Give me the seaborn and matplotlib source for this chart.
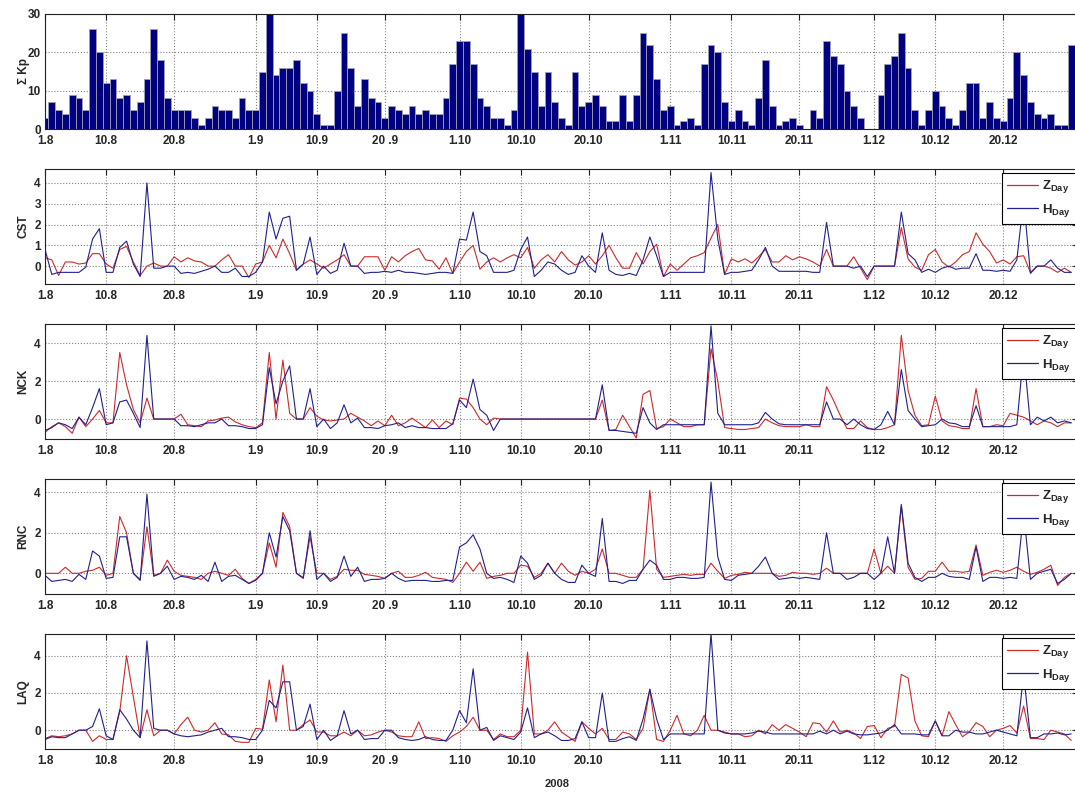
# Daily sum of Kp and daily Z / H variations at four stations, Aug - Dec 2008
import numpy as np
import matplotlib
matplotlib.use('Agg')
import matplotlib.pyplot as plt
import seaborn as sns
from matplotlib.lines import Line2D

# x axis: day number, 1 Aug 2008 = day 0
tick_days = [0, 9, 19, 31, 40, 50, 61, 70, 80, 92, 101, 111, 122, 131, 141]
tick_labels = ['1.8', '10.8', '20.8', '1.9', '10.9', '20 .9', '1.10', '10.10',
               '20.10', '1.11', '10.11', '20.11', '1.12', '10.12', '20.12']

# daily sum of Kp (1 Aug .. 31 Dec)
kp_sum = [3, 7, 5, 4, 9, 8, 5, 26, 20, 12,
          13, 8, 9, 5, 7, 13, 26, 18, 8, 5,
          5, 5, 3, 1, 3, 6, 5, 5, 3, 8,
          5, 5, 15, 30, 14, 16, 16, 18, 12, 10,
          4, 1, 1, 10, 25, 16, 6, 13, 8, 7,
          3, 6, 5, 4, 6, 4, 5, 4, 4, 8,
          17, 23, 23, 17, 8, 6, 3, 3, 1, 5,
          30, 21, 15, 6, 15, 7, 3, 1, 15, 6,
          7, 9, 6, 2, 2, 9, 2, 9, 25, 22,
          13, 5, 6, 1, 2, 3, 1, 17, 22, 20,
          7, 2, 5, 2, 1, 8, 18, 6, 1, 2,
          3, 1, 0, 5, 3, 23, 19, 17, 10, 6,
          3, 0, 0, 9, 17, 19, 25, 16, 5, 1,
          5, 10, 6, 3, 1, 5, 12, 12, 3, 7,
          3, 2, 8, 20, 14, 7, 4, 3, 4, 1,
          1, 22, 15]

# CST
cst_z = [0.4, 0.3, -0.45, 0.2, 0.2, 0.1, 0.15, 0.6, 0.6, 0.1,
         -0.1, 0.8, 0.95, 0.2, -0.45, 0.0, 0.15, 0.0, 0.0, 0.45,
         0.2, 0.4, 0.25, 0.2, 0.0, 0.0, 0.3, 0.55, 0.0, 0.0,
         -0.55, 0.1, 0.2, 1.0, 0.4, 1.3, 0.6, -0.2, 0.1, 0.3,
         0.1, -0.1, 0.1, 0.3, 0.55, 0.0, 0.0, 0.45, 0.45, 0.45,
         -0.2, 0.45, 0.2, 0.5, 0.7, 0.85, 0.3, 0.25, -0.15, 0.4,
         -0.35, 0.2, 0.7, 1.0, -0.15, 0.2, 0.4, 0.2, 0.4, 0.55,
         0.4, 0.9, -0.1, 0.3, 0.55, 0.2, 0.7, 0.3, 0.05, 0.2,
         0.5, 0.1, 0.5, 1.0, 0.4, -0.1, -0.1, 0.65, 0.1, 0.7,
         1.05, -0.5, 0.1, -0.2, 0.1, 0.4, 0.5, 0.65, 1.35, 2.0,
         -0.4, 0.35, 0.2, 0.35, 0.15, 0.45, 0.8, 0.2, 0.2, 0.5,
         0.3, 0.45, 0.35, 0.2, 0.0, 0.8, 0.0, 0.0, 0.0, 0.45,
         -0.1, -0.65, 0.0, 0.0, 0.0, 0.0, 1.85, 0.35, -0.05, -0.2,
         0.55, 0.8, 0.2, -0.05, 0.2, 0.55, 0.7, 1.6, 1.05, 0.7,
         0.15, 0.3, 0.1, 0.45, 0.5, -0.3, 0.0, 0.0, -0.1, -0.3,
         -0.1, -0.3]
cst_h = [0.8, -0.4, -0.3, -0.3, -0.3, -0.3, -0.05, 1.3, 1.8, -0.3,
         -0.3, 0.9, 1.2, 0.1, -0.5, 4.0, -0.1, -0.1, 0.0, 0.0,
         -0.35, -0.3, -0.35, -0.25, -0.15, 0.0, -0.3, -0.3, -0.1, -0.5,
         -0.5, -0.3, 0.2, 2.6, 1.3, 2.3, 2.4, -0.2, 0.1, 1.4,
         -0.4, 0.0, -0.35, -0.2, 1.1, 0.0, 0.0, -0.35, -0.3, -0.3,
         -0.25, -0.3, -0.2, -0.3, -0.3, -0.35, -0.4, -0.35, -0.3, -0.3,
         -0.35, 1.3, 1.25, 2.6, 0.7, 0.5, -0.3, -0.3, -0.3, -0.2,
         0.8, 1.4, -0.5, -0.2, 0.2, 0.1, -0.2, -0.4, -0.3, 0.5,
         0.0, -0.3, 1.6, -0.2, -0.4, -0.45, -0.35, -0.45, 0.3, 1.4,
         0.5, -0.5, -0.3, -0.3, -0.3, -0.3, -0.3, -0.3, 4.5, 1.3,
         -0.4, -0.3, -0.3, -0.25, -0.2, 0.3, 0.9, 0.0, -0.25, -0.25,
         -0.25, -0.25, -0.25, -0.3, -0.3, 2.1, 0.0, 0.0, 0.0, -0.1,
         0.0, -0.5, 0.0, 0.0, 0.0, 0.0, 2.6, 0.6, 0.3, -0.3,
         -0.15, -0.3, -0.1, 0.0, -0.15, -0.1, -0.1, 0.6, -0.2, -0.2,
         -0.25, -0.2, -0.25, 0.3, 3.2, -0.35, 0.0, 0.0, 0.3, -0.1,
         -0.3, -0.3]

# NCK
nck_z = [-0.7, -0.4, -0.2, -0.4, -0.75, 0.1, -0.4, 0.0, 0.45, -0.2,
         -0.2, 3.5, 1.8, 0.5, -0.2, 1.1, 0.0, 0.0, 0.0, 0.0,
         0.25, -0.3, -0.35, -0.4, -0.1, -0.05, 0.05, 0.1, -0.15, -0.3,
         -0.4, -0.45, -0.2, 3.5, 0.0, 3.1, 0.3, 0.0, 0.0, 0.6,
         0.15, -0.05, -0.1, -0.05, 0.0, 0.3, 0.1, -0.1, -0.35, -0.1,
         -0.35, 0.2, -0.35, -0.2, 0.05, -0.2, -0.45, -0.05, -0.45, -0.1,
         -0.3, 1.1, 1.05, 0.6, 0.0, -0.3, 0.05, 0.0, 0.0, 0.0,
         0.0, 0.0, 0.0, 0.0, 0.0, 0.0, 0.0, 0.0, 0.0, 0.0,
         0.0, 0.0, 1.0, -0.6, -0.55, 0.2, -0.4, -1.0, 1.3, 1.5,
         -0.5, -0.4, 0.0, -0.2, -0.4, -0.4, -0.3, -0.3, 3.7, 2.0,
         -0.45, -0.5, -0.55, -0.55, -0.5, -0.45, 0.0, -0.2, -0.35, -0.4,
         -0.4, -0.4, -0.3, -0.4, -0.4, 1.7, 1.0, 0.2, -0.5, -0.5,
         -0.1, -0.45, -0.55, -0.55, -0.45, -0.3, 4.4, 1.5, 0.2, -0.35,
         -0.3, 1.2, -0.1, -0.35, -0.4, -0.5, -0.5, 1.6, -0.4, -0.4,
         -0.3, -0.35, 0.3, 0.2, 0.1, -0.1, -0.3, -0.1, -0.2, -0.4,
         -0.2, -0.2]
nck_h = [-0.6, -0.45, -0.2, -0.3, -0.5, 0.1, -0.3, 0.6, 1.6, -0.3,
         -0.2, 0.9, 1.0, 0.3, -0.45, 4.4, 0.0, 0.0, 0.0, 0.0,
         -0.35, -0.35, -0.4, -0.3, -0.2, -0.2, 0.0, -0.35, -0.35, -0.4,
         -0.5, -0.5, -0.3, 2.7, 0.8, 2.0, 2.8, 0.0, 0.0, 1.6,
         -0.4, 0.0, -0.5, -0.2, 0.75, -0.2, 0.05, -0.45, -0.45, -0.5,
         -0.35, -0.3, -0.2, -0.45, -0.35, -0.45, -0.45, -0.5, -0.5, -0.5,
         -0.25, 1.0, 0.6, 2.1, 0.5, 0.2, -0.6, 0.0, 0.0, 0.0,
         0.0, 0.0, 0.0, 0.0, 0.0, 0.0, 0.0, 0.0, 0.0, 0.0,
         0.0, 0.0, 1.8, -0.6, -0.6, -0.65, -0.7, -0.75, 0.6, -0.2,
         -0.55, -0.3, -0.3, -0.3, -0.3, -0.3, -0.3, -0.3, 4.9, 0.3,
         -0.3, -0.3, -0.3, -0.3, -0.3, -0.2, 0.35, 0.0, -0.25, -0.3,
         -0.3, -0.3, -0.3, -0.3, -0.3, 0.9, 0.0, 0.0, -0.3, 0.0,
         -0.3, -0.5, -0.55, -0.3, 0.4, -0.3, 2.6, 0.45, 0.0, -0.4,
         -0.35, -0.3, 0.0, -0.2, -0.25, -0.4, -0.4, 0.7, -0.4, -0.4,
         -0.4, -0.4, -0.4, -0.3, 3.5, -0.3, 0.1, -0.1, 0.1, -0.2,
         -0.1, -0.2]

# RNC
rnc_z = [0.0, 0.0, 0.0, 0.3, 0.0, 0.0, 0.1, 0.15, 0.3, -0.1,
         0.0, 2.8, 2.0, 0.0, -0.3, 2.3, -0.1, 0.0, 0.65, 0.1,
         -0.1, -0.15, -0.2, -0.3, 0.0, 0.1, 0.0, -0.1, 0.2, -0.25,
         -0.5, -0.3, 0.0, 1.5, 0.3, 3.0, 2.3, 0.0, -0.2, 1.8,
         0.0, 0.0, -0.3, -0.15, 0.2, 0.15, 0.15, -0.05, -0.1, -0.15,
         -0.25, 0.0, 0.1, -0.2, -0.2, -0.1, 0.05, -0.2, -0.25, -0.3,
         -0.45, 0.0, 0.55, 0.1, 0.55, -0.25, -0.15, -0.1, 0.0, 0.0,
         0.4, 0.35, -0.2, 0.0, 0.5, 0.0, 0.5, 0.1, -0.1, 0.1,
         0.0, 0.2, 1.2, 0.0, 0.0, -0.1, -0.2, -0.2, 0.2, 4.1,
         0.2, -0.2, -0.15, -0.1, -0.05, -0.1, -0.05, -0.05, 0.5, 0.1,
         -0.25, -0.1, -0.05, 0.05, 0.0, 0.0, 0.0, 0.0, -0.15, -0.1,
         0.05, 0.0, 0.0, -0.05, 0.0, 0.25, 0.0, 0.0, 0.0, 0.0,
         0.0, 0.0, 1.2, 0.0, 0.35, 0.0, 3.3, 0.3, -0.3, -0.25,
         0.1, 0.1, 0.55, 0.1, 0.1, 0.05, 0.1, 1.4, -0.1, 0.05,
         0.15, 0.05, 0.15, 0.3, 0.1, -0.05, 0.05, 0.2, 0.4, -0.6,
         -0.2, 0.0]
rnc_h = [-0.1, -0.4, -0.35, -0.3, -0.4, -0.05, -0.3, 1.1, 0.85, -0.25,
         -0.2, 1.8, 1.8, 0.0, -0.35, 3.9, -0.15, 0.0, 0.35, -0.3,
         -0.15, -0.2, -0.3, -0.1, -0.4, 0.55, -0.4, -0.15, -0.1, -0.3,
         -0.5, -0.35, 0.0, 2.0, 0.8, 2.8, 2.1, 0.0, -0.25, 2.1,
         -0.3, 0.0, -0.4, -0.2, 0.85, -0.15, 0.3, -0.4, -0.3, -0.3,
         -0.25, 0.0, -0.25, -0.4, -0.35, -0.35, -0.35, -0.4, -0.4, -0.35,
         -0.35, 1.3, 1.5, 1.9, 1.2, 0.0, -0.25, -0.2, -0.3, -0.45,
         0.85, 0.5, -0.3, -0.1, 0.5, 0.0, -0.3, -0.45, -0.45, 0.4,
         0.0, -0.15, 2.7, -0.4, -0.4, -0.5, -0.35, -0.35, 0.2, 0.65,
         0.4, -0.3, -0.3, -0.2, -0.2, -0.25, -0.25, -0.2, 4.5, 0.8,
         -0.3, -0.35, -0.1, -0.05, 0.0, 0.35, 0.8, 0.0, -0.3, -0.25,
         -0.2, -0.25, -0.2, -0.25, -0.3, 2.0, 0.0, 0.0, -0.3, -0.2,
         0.0, 0.0, -0.3, 0.0, 1.8, 0.0, 3.4, 0.5, -0.2, -0.4,
         -0.2, -0.2, 0.0, -0.15, -0.2, -0.2, -0.3, 1.3, -0.4, -0.2,
         -0.2, -0.25, -0.2, -0.25, 3.0, -0.3, 0.0, 0.1, 0.2, -0.5,
         -0.3, 0.0]

# LAQ
laq_z = [-0.45, -0.3, -0.35, -0.3, -0.2, 0.0, 0.0, -0.6, -0.3, -0.5,
         -0.5, 1.0, 4.0, 1.8, -0.4, 1.1, -0.3, 0.0, 0.0, -0.2,
         0.3, 0.7, 0.0, -0.1, 0.0, 0.4, -0.2, -0.25, -0.6, -0.65,
         -0.65, 0.1, 0.05, 2.7, 0.45, 3.5, 0.0, 0.0, 0.3, 0.55,
         -0.1, -0.1, -0.3, -0.3, -0.1, -0.3, 0.0, -0.3, -0.25, -0.1,
         0.0, -0.1, -0.3, -0.35, -0.35, 0.45, -0.45, -0.4, -0.45, -0.6,
         -0.3, -0.1, 0.2, 0.7, 0.0, 0.0, -0.5, -0.2, -0.35, -0.35,
         0.0, 4.2, -0.2, -0.2, 0.0, 0.45, -0.1, -0.35, -0.6, 0.45,
         0.1, -0.2, 0.1, -0.5, -0.5, -0.1, -0.2, -0.5, 0.1, 2.2,
         -0.5, -0.6, 0.0, 0.8, -0.2, -0.3, 0.0, 0.8, 0.0, 0.0,
         -0.1, -0.2, -0.2, -0.35, -0.3, 0.0, -0.2, 0.3, 0.0, 0.3,
         0.1, -0.1, -0.35, 0.4, 0.35, -0.1, 0.5, -0.1, 0.0, -0.15,
         -0.45, 0.2, 0.25, -0.4, 0.1, 0.2, 3.0, 2.8, 0.5, -0.3,
         -0.35, 0.5, -0.3, 1.0, 0.3, -0.35, -0.1, 0.4, 0.2, -0.35,
         0.0, 0.1, 0.25, -0.15, 1.3, -0.45, -0.45, -0.5, 0.0, -0.1,
         -0.2, -0.55]
laq_h = [-0.5, -0.35, -0.4, -0.4, -0.2, 0.0, 0.0, 0.2, 1.15, -0.3,
         -0.5, 1.1, 0.6, 0.0, -0.4, 4.8, 0.1, 0.0, 0.0, -0.2,
         -0.3, -0.35, -0.3, -0.25, -0.1, 0.0, 0.1, -0.35, -0.35, -0.4,
         -0.5, -0.5, 0.0, 1.6, 1.2, 2.6, 2.6, 0.0, 0.2, 1.4,
         -0.5, 0.0, -0.55, -0.3, 1.05, -0.2, 0.0, -0.5, -0.45, -0.45,
         0.0, 0.0, -0.4, -0.5, -0.55, -0.5, -0.35, -0.5, -0.55, -0.55,
         0.0, 1.05, 0.4, 3.3, 0.0, 0.15, -0.55, -0.3, -0.4, -0.5,
         -0.1, 1.2, -0.4, -0.2, -0.1, -0.3, -0.55, -0.55, -0.45, 0.45,
         -0.4, -0.4, 2.0, -0.6, -0.6, -0.45, -0.35, -0.55, 0.6, 2.2,
         0.6, -0.5, -0.2, -0.2, -0.2, -0.2, -0.2, -0.2, 5.2, 0.0,
         -0.15, -0.2, -0.2, -0.2, -0.15, -0.05, -0.1, -0.2, -0.2, -0.2,
         -0.2, -0.2, -0.2, -0.2, -0.05, -0.2, 0.0, -0.2, -0.05, -0.2,
         -0.25, -0.25, -0.2, -0.15, 0.0, 0.3, -0.2, -0.2, -0.2, -0.25,
         -0.25, 0.5, -0.3, -0.3, 0.0, -0.1, -0.1, -0.2, -0.2, -0.1,
         0.0, -0.1, -0.2, -0.3, 3.0, -0.4, -0.4, -0.2, -0.2, -0.15,
         -0.25, -0.2]

stations = ['CST', 'NCK', 'RNC', 'LAQ']
z_series = [cst_z, nck_z, rnc_z, laq_z]
h_series = [cst_h, nck_h, rnc_h, laq_h]
y_limits = [(-0.86, 4.67), (-1.05, 5.0), (-1.02, 4.65), (-1.01, 5.17)]
y_ticks = [[0, 1, 2, 3, 4], [0, 2, 4], [0, 2, 4], [0, 2, 4]]

days_bar = np.arange(len(kp_sum))
days_line = np.arange(len(cst_z))

red = '#cc2a2a'
blue = '#20208f'

sns.set_style('white')
plt.rcParams['font.family'] = ['Liberation Sans', 'DejaVu Sans']
plt.rcParams['font.weight'] = 'bold'
plt.rcParams['mathtext.fontset'] = 'custom'
plt.rcParams['mathtext.rm'] = 'Liberation Sans:bold'
plt.rcParams['mathtext.bf'] = 'Liberation Sans:bold'
plt.rcParams['mathtext.it'] = 'Liberation Sans:bold'

W, H = 1075, 794
fig = plt.figure(figsize=(W / 100, H / 100), dpi=100)


def add_panel(top_px):
    # axes run a little past the right edge of the picture, as in the original
    return fig.add_axes([45 / W, 1 - (top_px + 115) / H, 1033 / W, 115 / H])


def style_axes(ax, ylabel):
    ax.set_xlim(0, 152)
    ax.set_xticks(tick_days)
    ax.set_xticklabels(tick_labels)
    ax.set_xlabel('')
    ax.grid(True, linestyle=':', color='#808080', linewidth=0.8)
    ax.set_axisbelow(True)
    ax.tick_params(direction='in', top=True, right=True, length=4, width=0.8,
                   color='#222222', labelsize=8.5, pad=3)
    ax.tick_params(axis='x', pad=4)
    for s in ax.spines.values():
        s.set_visible(True)
        s.set_color('#222222')
        s.set_linewidth(0.8)
    ax.set_ylabel(ylabel, fontsize=8.5, fontweight='bold')
    ax.yaxis.set_label_coords(-0.015, 0.5)


# top panel: daily sum of Kp
ax0 = add_panel(14)
sns.barplot(x=days_bar, y=kp_sum, native_scale=True, width=1.0, color='#000080',
            saturation=1, errorbar=None, edgecolor='#a0a0b4', linewidth=0.6, ax=ax0)
style_axes(ax0, 'Σ Kp')
ax0.set_ylim(0, 30)
ax0.set_yticks([0, 10, 20, 30])

# station panels
for i, name in enumerate(stations):
    ax = add_panel(169 + 155 * i)
    sns.lineplot(x=days_line, y=z_series[i], color=red, linewidth=0.8, ax=ax)
    sns.lineplot(x=days_line, y=h_series[i], color=blue, linewidth=0.8, ax=ax)
    style_axes(ax, name)
    ax.set_ylim(*y_limits[i])
    ax.set_yticks(y_ticks[i])
    handles = [Line2D([], [], color=red, lw=0.9), Line2D([], [], color=blue, lw=0.9)]
    leg = ax.legend(handles, [r'$\mathbf{Z}_{\mathbf{Day}}$', r'$\mathbf{H}_{\mathbf{Day}}$'],
                    loc='upper left', bbox_to_anchor=((1002 - 45) / 1033, 1 - 4 / 115),
                    frameon=True, fancybox=False, framealpha=1, edgecolor='black',
                    fontsize=9.5, handlelength=2.3, borderpad=0.4, labelspacing=0.5,
                    handletextpad=0.3, borderaxespad=0)
    leg.get_frame().set_linewidth(0.8)

fig.text(557 / W, 1 - 784 / H, '2008', ha='center', va='center', fontsize=8, fontweight='bold')

plt.savefig('out.png', dpi=100)
